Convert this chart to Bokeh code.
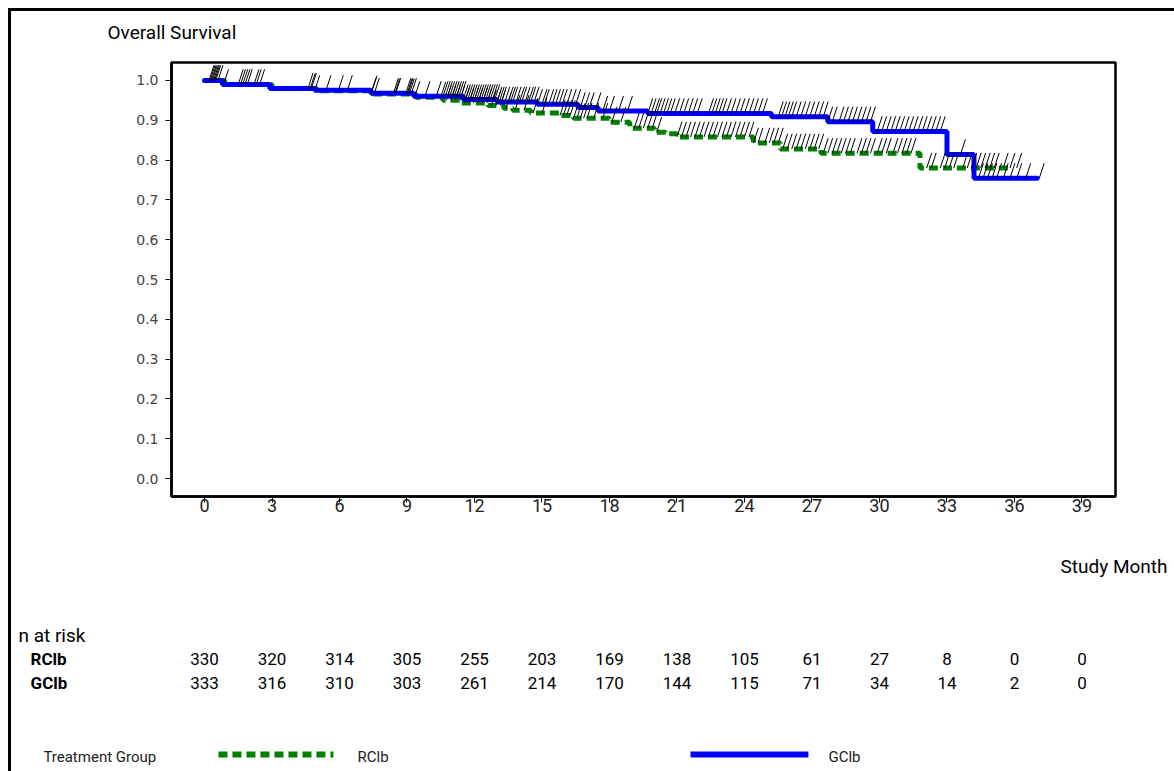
import numpy as np
from bokeh.plotting import figure
from bokeh.layouts import column
from bokeh.models import (Range1d, FixedTicker, Label, LabelSet, ColumnDataSource,
                          NumeralTickFormatter)
from bokeh.core.properties import value
from bokeh.embed import file_html
from bokeh.resources import INLINE

# ---------------- data ----------------
x_ticks = [0, 3, 6, 9, 12, 15, 18, 21, 24, 27, 30, 33, 36, 39]
y_ticks = [0.0, 0.1, 0.2, 0.3, 0.4, 0.5, 0.6, 0.7, 0.8, 0.9, 1.0]

groups = ["RClb", "GClb"]

# Kaplan-Meier step points (time in months, survival)
rcib_time = [0, 0.9, 3.0, 5.0, 7.5, 9.4, 10.6, 11.4, 12.6, 13.3, 13.7, 14.5, 15.8, 16.4,
             18.0, 18.9, 20.0, 20.5, 21.0, 24.4, 25.6, 27.4, 31.8, 35.8]
rcib_surv = [1.0, 0.99, 0.98, 0.974, 0.966, 0.958, 0.95, 0.943, 0.937, 0.93, 0.925, 0.918,
             0.912, 0.905, 0.895, 0.88, 0.87, 0.866, 0.858, 0.843, 0.828, 0.817, 0.78, 0.78]

gcib_time = [0, 0.8, 2.9, 4.9, 7.4, 9.3, 11.5, 13.0, 14.8, 16.6, 17.5, 19.7, 25.2, 27.7,
             29.7, 33.0, 34.2, 37.0]
gcib_surv = [1.0, 0.99, 0.98, 0.975, 0.968, 0.96, 0.952, 0.946, 0.94, 0.932, 0.923, 0.917,
             0.909, 0.896, 0.872, 0.814, 0.754, 0.754]

# censoring times
rcib_cens = [0.25, 0.4, 0.5, 1.6, 1.8, 2.2, 4.7, 7.45, 8.45, 9.0, 9.1, 10.5, 10.75, 10.95,
             11.15, 11.35, 11.55, 11.75, 11.95, 12.15, 12.35, 12.55, 12.75, 12.95, 13.15,
             13.4, 13.8, 14.2, 14.6, 15.0, 15.8, 15.95, 16.1, 16.25, 16.4, 16.55, 16.7,
             16.85, 17.0, 17.3, 17.7, 18.1, 18.5, 19.1, 19.3, 19.5, 19.7, 19.9, 20.1, 21.0,
             21.2, 21.4, 21.6, 21.8, 22.0, 22.2, 22.4, 22.6, 22.8, 23.0, 23.2, 23.4, 23.6,
             23.8, 24.0, 24.2, 24.4, 24.6, 24.9, 25.1, 25.3, 25.5, 25.7, 25.9, 26.1, 26.3,
             26.5, 26.7, 26.9, 27.1, 27.3, 27.5, 27.7, 27.9, 28.1, 28.3, 28.5, 28.7, 29.0,
             29.2, 29.4, 29.6, 29.9, 30.1, 30.3, 30.6, 30.8, 31.0, 31.2, 31.4, 32.1, 32.3,
             32.7, 32.9, 33.1, 33.3, 33.7, 33.9, 34.1, 34.3, 34.5, 34.7, 34.9, 35.1, 35.5,
             35.8, 36.1]
gcib_cens = [0.2, 0.3, 0.35, 0.45, 0.6, 0.85, 1.5, 1.7, 1.9, 2.3, 2.45, 4.6, 4.75, 4.9, 5.4,
             5.95, 6.35, 7.4, 7.55, 8.4, 8.5, 8.95, 9.05, 9.2, 9.35, 9.8, 10.3, 10.6, 10.7,
             10.8, 10.9, 11.0, 11.1, 11.2, 11.3, 11.4, 11.5, 11.6, 11.7, 11.8, 11.9, 12.0,
             12.1, 12.2, 12.3, 12.4, 12.5, 12.6, 12.7, 12.8, 12.9, 13.0, 13.1, 13.2, 13.35,
             13.5, 13.6, 13.7, 13.85, 14.0, 14.1, 14.25, 14.4, 14.5, 14.65, 14.8, 15.0, 15.1,
             15.3, 15.45, 15.6, 15.75, 15.9, 16.1, 16.3, 16.5, 16.7, 16.9, 17.1, 17.4, 17.7,
             18.0, 18.4, 18.8, 19.7, 19.85, 20.0, 20.1, 20.25, 20.4, 20.55, 20.7, 20.9, 21.1,
             21.3, 21.5, 21.7, 21.9, 22.4, 22.55, 22.7, 22.85, 23.0, 23.2, 23.4, 23.6, 23.8,
             24.0, 24.2, 24.4, 24.6, 24.8, 25.5, 25.65, 25.8, 25.95, 26.1, 26.3, 26.5, 26.7,
             26.9, 27.1, 27.3, 27.5, 27.7, 27.9, 28.2, 28.4, 28.6, 28.8, 29.0, 29.2, 29.4,
             29.6, 29.9, 30.1, 30.3, 30.5, 30.7, 30.9, 31.1, 31.3, 31.5, 31.7, 31.9, 32.1,
             32.3, 32.5, 32.7, 33.6, 34.4, 34.6, 34.8, 35.0, 35.2, 35.5, 35.8, 36.1, 36.5,
             37.1]

risk_months = [0, 3, 6, 9, 12, 15, 18, 21, 24, 27, 30, 33, 36, 39]
rcib_risk = [330, 320, 314, 305, 255, 203, 169, 138, 105, 61, 27, 8, 0, 0]
gcib_risk = [333, 316, 310, 303, 261, 214, 170, 144, 115, 71, 34, 14, 2, 0]

# ---------------- styling ----------------
ROB = "Roboto"
GREEN = "#008000"
BLUE = "#0000ff"
W = 1163
FULL_X = (-8.578, 43.11)      # month range spanning the whole page width


def blank(height, y_top, y_bottom):
    f = figure(width=W, height=height, x_range=Range1d(*FULL_X),
               y_range=Range1d(y_bottom, y_top), output_backend="svg",
               toolbar_location=None, min_border=0,
               x_axis_location=None, y_axis_location=None)
    f.frame_align = False
    f.grid.visible = False
    f.outline_line_color = None
    return f


# ---- header ----
top = blank(47, 11, 58)
top.add_layout(Label(x=-4.31, y=32, text="Overall Survival", text_font=ROB,
                     text_font_size="19px", text_baseline="middle", text_color="black"))

# ---- main plot ----
p = figure(width=W, height=482,
           x_range=Range1d(-1.467, 40.49), y_range=Range1d(-0.045, 1.045),
           output_backend="svg", toolbar_location=None,
           min_border_left=160, min_border_right=59,
           min_border_top=4, min_border_bottom=44)
p.xgrid.visible = False
p.ygrid.visible = False
p.outline_line_color = "black"
p.outline_line_width = 2.5

p.xaxis.ticker = FixedTicker(ticks=x_ticks)
p.yaxis.ticker = FixedTicker(ticks=y_ticks)
p.yaxis.formatter = NumeralTickFormatter(format="0.0")
for ax in (p.xaxis, p.yaxis):
    ax.axis_line_width = 2.5
    ax.axis_line_color = "black"
    ax.major_tick_in = 0
    ax.major_tick_out = 6
    ax.major_tick_line_width = 1
    ax.minor_tick_line_color = None
p.xaxis.major_label_text_font = "Roboto, sans-serif"
p.xaxis.major_label_text_font_size = "18px"
p.xaxis.major_label_text_color = "#222222"
p.xaxis.major_label_standoff = -4
p.yaxis.major_label_text_font = "DejaVu Sans"
p.yaxis.major_label_text_font_size = "14px"
p.yaxis.major_label_text_color = "#444444"
p.yaxis.major_label_standoff = 7

p.step(rcib_time, rcib_surv, mode="after", line_color=GREEN, line_width=5, line_dash="9 5")
p.step(gcib_time, gcib_surv, mode="after", line_color=BLUE, line_width=5, line_cap="round")

SL_DX, SL_DY = 0.22, 0.038
for times, surv, cens in ((rcib_time, rcib_surv, rcib_cens), (gcib_time, gcib_surv, gcib_cens)):
    c = np.array(cens)
    idx = np.searchsorted(np.array(times), c, side="right") - 1
    s = np.array(surv)[idx]
    p.segment(x0=c, y0=s, x1=c + SL_DX, y1=s + SL_DY, line_color="black", line_width=1)

# ---- bottom: axis title, numbers at risk, legend ----
bot = blank(231, 540, 771)
bot.add_layout(Label(x=42.8, y=566, text="Study Month", text_font=ROB,
                     text_font_size="19px", text_baseline="middle", text_align="right",
                     text_color="black"))
bot.add_layout(Label(x=-8.27, y=635, text="n at risk", text_font=ROB,
                     text_font_size="19px", text_baseline="middle", text_color="black"))
for gname, risk, yy in zip(groups, (rcib_risk, gcib_risk), (658, 682)):
    bot.add_layout(Label(x=-7.73, y=yy, text=gname, text_font=ROB, text_font_size="17px",
                         text_font_style="bold", text_baseline="middle", text_color="black"))
    src = ColumnDataSource(dict(x=risk_months, y=[yy] * len(risk_months),
                                t=[str(v) for v in risk]))
    bot.add_layout(LabelSet(x="x", y="y", text="t", source=src, text_font=value(ROB),
                            text_font_size=value("17px"), text_align="center",
                            text_baseline="middle", text_color="black"))

bot.add_layout(Label(x=-7.16, y=756, text="Treatment Group", text_font=ROB,
                     text_font_size="15px", text_baseline="middle", text_color="#222222"))
bot.line([0.62, 5.73], [754, 754], line_color=GREEN, line_width=6, line_dash="9 5")
bot.add_layout(Label(x=6.8, y=756, text=groups[0], text_font=ROB, text_font_size="15px",
                     text_baseline="middle", text_color="#222222"))
bot.line([21.6, 26.84], [754, 754], line_color=BLUE, line_width=6)
bot.add_layout(Label(x=27.73, y=756, text=groups[1], text_font=ROB, text_font_size="15px",
                     text_baseline="middle", text_color="#222222"))

layout = column(top, p, bot, spacing=0,
                styles={"border-left": "3px solid black", "border-top": "3px solid black",
                        "margin-left": "8px", "margin-top": "8px"})

open("out.html", "w").write(file_html(layout, INLINE))
